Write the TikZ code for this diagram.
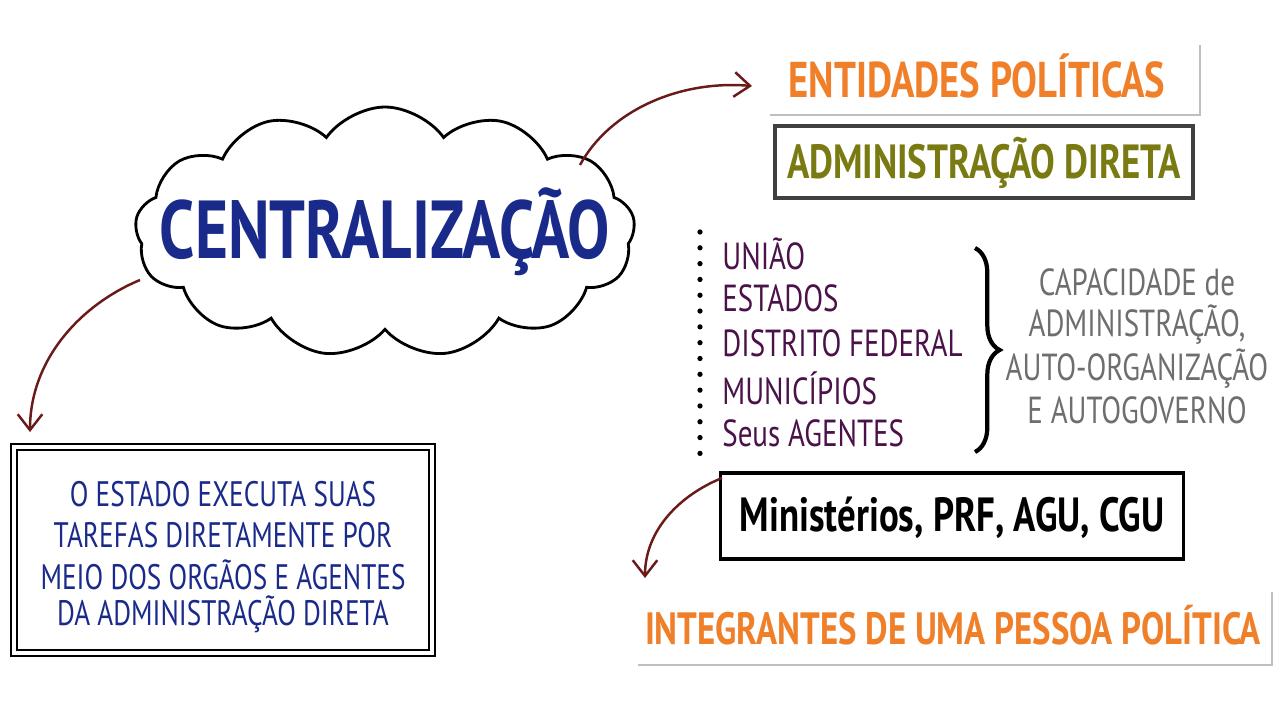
\documentclass[tikz,border=0pt]{standalone}
\usepackage{fontspec}
\usepackage{graphicx}
\setmainfont{PT Sans}
\usetikzlibrary{shapes.symbols,decorations.pathreplacing,arrows.meta}
\definecolor{ora}{HTML}{F07F2A}
\definecolor{oli}{HTML}{7A7A12}
\definecolor{pur}{HTML}{4A1248}
\definecolor{blu}{HTML}{1A2A8A}
\definecolor{gtx}{HTML}{6E6E6E}
\definecolor{arr}{HTML}{6B1A1A}
\newcommand{\tallt}[1]{\scalebox{1}[1.3]{#1}}
\tikzset{
  arrowline/.style={draw=arr, line width=1.4pt, -{Straight Barb[length=9pt,width=14pt]}},
  lbl/.style={inner sep=0pt, anchor=center},
}
\begin{document}
\begin{tikzpicture}[x=0.02cm,y=-0.02cm]
\useasboundingbox (0,0) rectangle (1280,720);
\fill[white] (0,0) rectangle (1280,720);
% cloud
\node[cloud, cloud puffs=13, cloud puff arc=110, aspect=2.1, draw=black, line width=1.6pt,
  minimum width=500*0.02cm, minimum height=250*0.02cm, inner sep=0pt] (cloud) at (385,232) {};
\node[lbl, text=blu, font=\fontsize{36}{36}\selectfont\bfseries] (ctext) at (385,232) {\tallt{CENTRALIZAÇÃO}};
% entidades
\draw[gray!50, line width=1.5pt] (1200,45) -- (1200,115) -- (770,115);
\node[lbl, text=ora, font=\fontsize{22}{22}\selectfont\bfseries] (ent) at (977,76) {\tallt{ENTIDADES POLÍTICAS}};
% adm direta
\node[draw=black!75, line width=1.8pt, minimum width=418*0.02cm, minimum height=72*0.02cm] (adm) at (984,162) {};
\node[lbl, text=oli, font=\fontsize{21}{21}\selectfont\bfseries] at (984,163) {\tallt{ADMINISTRAÇÃO DIRETA}};
% dotted line
\draw[line width=3pt, dash pattern=on 0pt off 9pt, line cap=round] (700,232) -- (700,465);
% list
\begin{scope}[every node/.style={lbl, anchor=west, text=pur, font=\fontsize{16.5}{16.5}\selectfont}]
\node (l1) at (722,254) {\tallt{UNIÃO}};
\node (l2) at (722,298) {\tallt{ESTADOS}};
\node (l3) at (722,343) {\tallt{DISTRITO FEDERAL}};
\node (l4) at (722,388) {\tallt{MUNICÍPIOS}};
\node (l5) at (722,433) {\tallt{Seus AGENTES}};
\end{scope}
% brace
\draw[decorate, decoration={brace, amplitude=14pt}, line width=2.4pt] (975,248) -- (975,452);
% capacidade
\begin{scope}[every node/.style={lbl, text=gtx, font=\fontsize{16.5}{16.5}\selectfont}]
\node (c1) at (1137,282) {\tallt{CAPACIDADE de}};
\node (c2) at (1137,325) {\tallt{ADMINISTRAÇÃO,}};
\node (c3) at (1137,369) {\tallt{AUTO-ORGANIZAÇÃO}};
\node (c4) at (1137,410) {\tallt{E AUTOGOVERNO}};
\end{scope}
% ministerios
\node[draw=black, line width=2pt, minimum width=463*0.02cm, minimum height=86*0.02cm] (min) at (952,516) {};
\node[lbl, font=\fontsize{21}{21}\selectfont\bfseries] at (952,518) {\tallt{Ministérios, PRF, AGU, CGU}};
% integrantes
\draw[gray!50, line width=1.5pt] (1272,592) -- (1272,665) -- (638,665);
\node[lbl, text=ora, font=\fontsize{19.8}{19.8}\selectfont\bfseries] (int) at (953,625) {\tallt{INTEGRANTES DE UMA PESSOA POLÍTICA}};
% left box
\node[draw=black, line width=1.2pt, minimum width=424*0.02cm, minimum height=212*0.02cm] (lbox) at (223,550) {};
\node[draw=black, line width=0.8pt, minimum width=412*0.02cm, minimum height=200*0.02cm] at (223,550) {};
\begin{scope}[every node/.style={lbl, text=blu, font=\fontsize{15.5}{15.5}\selectfont}]
\node at (223,494) {\tallt{O ESTADO EXECUTA SUAS}};
\node at (223,535) {\tallt{TAREFAS DIRETAMENTE POR}};
\node at (223,575) {\tallt{MEIO DOS ORGÃOS E AGENTES}};
\node at (223,614) {\tallt{DA ADMINISTRAÇÃO DIRETA}};
\end{scope}
% arrows
\coordinate (a1) at (580,165);
\coordinate (e1) at (752,86);
\draw[arrowline] (a1) .. controls (610,110) and (680,80) .. (e1);
\coordinate (a2) at (140,280);
\coordinate (e2) at (30,432);
\draw[arrowline] (a2) .. controls (80,305) and (30,360) .. (e2);
\coordinate (a3) at (722,478);
\coordinate (e3) at (645,578);
\draw[arrowline] (a3) .. controls (680,495) and (645,530) .. (e3);
\end{tikzpicture}
\end{document}
